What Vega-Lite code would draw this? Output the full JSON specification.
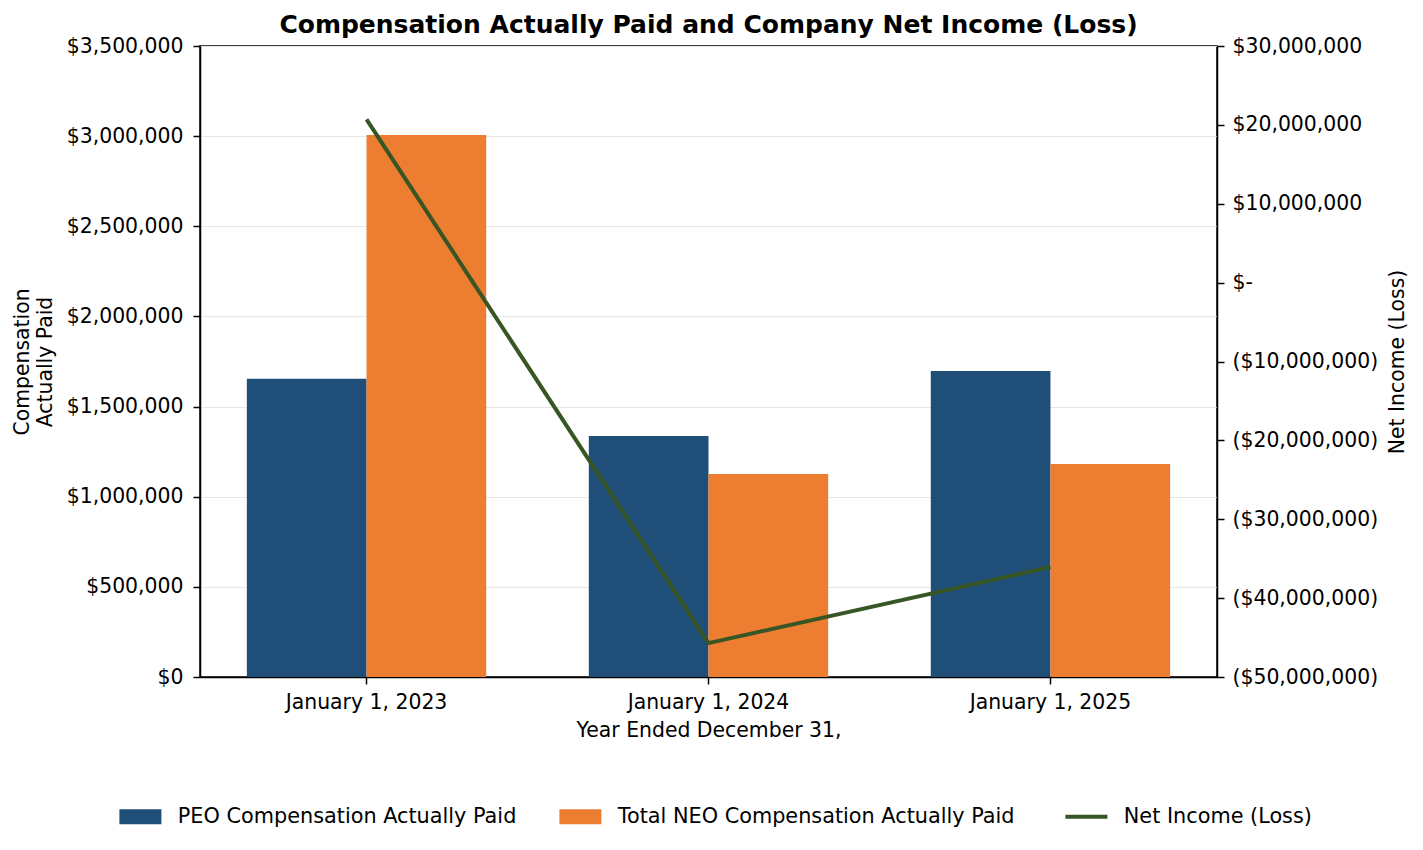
{
  "$schema": "https://vega.github.io/schema/vega-lite/v6.json",
  "autosize": {"type": "none"},
  "padding": {"left": 200, "top": 46, "right": 206, "bottom": 173},
  "width": 1017,
  "height": 631,
  "background": "white",
  "config": {
    "font": "DejaVu Sans",
    "view": {"stroke": "black", "strokeWidth": 1.5},
    "axis": {
      "labelFont": "DejaVu Sans",
      "titleFont": "DejaVu Sans",
      "labelFontSize": 20.4,
      "titleFontSize": 20.4,
      "titleFontWeight": "normal",
      "labelColor": "black",
      "titleColor": "black",
      "domainColor": "black",
      "domainWidth": 1.5,
      "tickColor": "black",
      "tickWidth": 1.5,
      "tickSize": 7,
      "labelPadding": 9
    },
    "legend": {"labelFont": "DejaVu Sans", "labelFontSize": 20.8, "labelColor": "black"}
  },
  "title": {
    "text": "Compensation Actually Paid and Company Net Income (Loss)",
    "font": "DejaVu Sans",
    "fontSize": 25,
    "fontWeight": "bold",
    "color": "black",
    "anchor": "middle",
    "offset": -2
  },
  "datasets": {
    "comp": [
      {"year": "January 1, 2023", "series": "PEO Compensation Actually Paid", "value": 1655000},
      {"year": "January 1, 2023", "series": "Total NEO Compensation Actually Paid", "value": 3006000},
      {"year": "January 1, 2024", "series": "PEO Compensation Actually Paid", "value": 1337000},
      {"year": "January 1, 2024", "series": "Total NEO Compensation Actually Paid", "value": 1126000},
      {"year": "January 1, 2025", "series": "PEO Compensation Actually Paid", "value": 1697000},
      {"year": "January 1, 2025", "series": "Total NEO Compensation Actually Paid", "value": 1181000}
    ],
    "net": [
      {"year": "January 1, 2023", "series": "Net Income (Loss)", "value": 20700000},
      {"year": "January 1, 2024", "series": "Net Income (Loss)", "value": -45700000},
      {"year": "January 1, 2025", "series": "Net Income (Loss)", "value": -36050000}
    ]
  },
  "layer": [
    {
      "data": {"name": "comp"},
      "mark": {"type": "bar"},
      "encoding": {
        "x": {
          "field": "year", "type": "nominal", "sort": null,
          "scale": {"paddingInner": 0.3, "paddingOuter": 0.137},
          "axis": {"title": "Year Ended December 31,", "labelAngle": 0, "labelPadding": 8, "titlePadding": 8, "grid": false}
        },
        "xOffset": {"field": "series", "type": "nominal", "sort": null, "scale": {"paddingInner": 0, "paddingOuter": 0}},
        "y": {
          "field": "value", "type": "quantitative",
          "scale": {"domain": [0, 3500000], "nice": false, "zero": true},
          "axis": {
            "title": ["Compensation", "Actually Paid"],
            "values": [0, 500000, 1000000, 1500000, 2000000, 2500000, 3000000, 3500000],
            "format": "$,d",
            "grid": true, "gridColor": "#e6e6e6", "gridWidth": 1.2,
            "labelPadding": 10,
            "titlePadding": 11
          }
        },
        "color": {
          "field": "series", "type": "nominal",
          "scale": {
            "domain": ["PEO Compensation Actually Paid", "Total NEO Compensation Actually Paid", "Net Income (Loss)"],
            "range": ["#1f4e79", "#ed7d31", "#375623"]
          },
          "legend": {
            "title": null,
            "orient": "none",
            "direction": "horizontal",
            "legendX": -70,
            "legendY": 760,
            "symbolSize": 1764,
            "labelOffset": 27,
            "labelLimit": 0,
            "columnPadding": 42,
            "labelFontSize": 20.8,
            "encode": {
              "symbols": {
                "update": {
                  "shape": {"signal": "datum.value === 'Net Income (Loss)' ? 'M-1,0H1' : 'M-1,-0.36H1V0.36H-1Z'"},
                  "fill": {"signal": "datum.value === 'Net Income (Loss)' ? 'transparent' : scale('color', datum.value)"},
                  "stroke": {"signal": "scale('color', datum.value)"},
                  "strokeWidth": {"signal": "datum.value === 'Net Income (Loss)' ? 4 : 0"},
                  "opacity": {"value": 1}
                }
              }
            }
          }
        }
      }
    },
    {
      "data": {"name": "net"},
      "mark": {"type": "line", "strokeWidth": 4},
      "encoding": {
        "x": {"field": "year", "type": "nominal", "sort": null},
        "y": {
          "field": "value", "type": "quantitative",
          "scale": {"domain": [-50000000, 30000000], "nice": false, "zero": false},
          "axis": {
            "orient": "right",
            "title": "Net Income (Loss)",
            "titleAngle": 270,
            "titleBaseline": "top",
            "titlePadding": 10,
            "labelPadding": 8,
            "values": [-50000000, -40000000, -30000000, -20000000, -10000000, 0, 10000000, 20000000, 30000000],
            "labelExpr": "datum.value > 0 ? '$' + format(datum.value, ',') : (datum.value == 0 ? '$-' : '($' + format(-datum.value, ',') + ')')",
            "grid": false
          }
        },
        "color": {"field": "series", "type": "nominal"}
      }
    }
  ],
  "resolve": {"scale": {"y": "independent"}}
}
